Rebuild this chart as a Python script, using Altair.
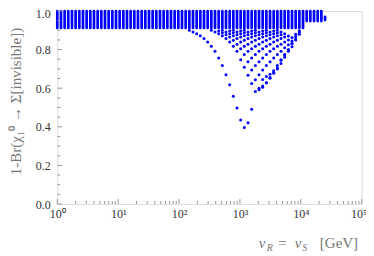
import altair as alt
import pandas as pd

# scan grid of v_R = v_S (GeV)
X_COLS = [1.0, 1.149, 1.320, 1.516, 1.742, 2.001, 2.299, 2.641, 3.034, 3.485,
          4.004, 4.600, 5.284, 6.070, 6.973, 8.011, 9.203, 10.57, 12.15, 13.95,
          16.03, 18.41, 21.15, 24.30, 27.91, 32.06, 36.83, 42.31, 48.61, 55.84,
          64.15, 73.69, 84.66, 97.26, 111.7, 128.4, 147.5, 169.4, 194.6, 223.6,
          256.8, 295.1, 339.0, 389.4, 447.3, 513.9, 590.4, 678.2, 779.1, 895.0,
          1028, 1181, 1357, 1559, 1791, 2057, 2363, 2715, 3119, 3583,
          4116, 4728, 5432, 6240, 7169, 8235, 9460, 10870, 12490, 14340,
          16480, 18930, 21740, 24980]
# dense band of points in each column (lowest / highest value)
BAND_LO = [0.912] * 68 + [0.948] * 5 + [0.953]
BAND_HI = [1.0] * 73 + [0.97]

# points that drop out of the band: (first column index, values)
CURVES = {
    "A": (36, [0.900, 0.891, 0.882, 0.872, 0.857, 0.839, 0.817, 0.791, 0.756, 0.717,
               0.670, 0.618, 0.558, 0.497, 0.435, 0.397, 0.421, 0.491]),
    "B": (42, [0.900, 0.891, 0.882, 0.872, 0.857, 0.839, 0.817, 0.791, 0.748, 0.708,
               0.667, 0.625, 0.583, 0.600, 0.645]),
    "C": (44, [0.896, 0.887, 0.877, 0.865, 0.848, 0.828, 0.804, 0.774, 0.737, 0.694,
               0.644, 0.592, 0.612, 0.660]),
    "D": (45, [0.900, 0.891, 0.882, 0.872, 0.857, 0.839, 0.817, 0.791, 0.756, 0.717,
               0.670, 0.605, 0.628, 0.672]),
    "E": (47, [0.896, 0.887, 0.877, 0.865, 0.848, 0.828, 0.804, 0.774, 0.737, 0.694,
               0.628, 0.652, 0.690]),
    "F": (48, [0.900, 0.891, 0.882, 0.872, 0.857, 0.839, 0.817, 0.791, 0.756, 0.717,
               0.655, 0.678, 0.705]),
    "G": (50, [0.896, 0.887, 0.877, 0.865, 0.848, 0.828, 0.804, 0.774, 0.737, 0.682,
               0.700, 0.745]),
    "H": (51, [0.900, 0.891, 0.882, 0.872, 0.857, 0.839, 0.817, 0.791, 0.756, 0.718,
               0.728, 0.775]),
    "I": (53, [0.896, 0.887, 0.877, 0.865, 0.848, 0.828, 0.804, 0.774, 0.748, 0.760,
               0.800]),
    "J": (54, [0.900, 0.891, 0.882, 0.872, 0.857, 0.839, 0.817, 0.791, 0.772, 0.792,
               0.830]),
    "K": (56, [0.896, 0.887, 0.877, 0.865, 0.848, 0.828, 0.810, 0.795, 0.815, 0.850]),
    "L": (57, [0.900, 0.891, 0.882, 0.872, 0.857, 0.839, 0.825, 0.832, 0.855, 0.880]),
    "M": (59, [0.896, 0.887, 0.877, 0.865, 0.850, 0.845, 0.868, 0.890]),
    "N": (60, [0.900, 0.891, 0.882, 0.870, 0.863, 0.880, 0.898]),
}

X_MAJOR = [1, 10, 100, 1000, 10000, 100000]
X_MINOR = [m * 10 ** k for k in range(5) for m in range(2, 10)]
Y_MAJOR = [0.0, 0.2, 0.4, 0.6, 0.8, 1.0]
Y_MINOR = [0.05, 0.1, 0.15, 0.25, 0.3, 0.35, 0.45, 0.5, 0.55, 0.65, 0.7, 0.75,
           0.85, 0.9, 0.95]

BLUE = "#0000ff"
FRAME = "#999999"
W, H = 304.4, 193

band_df = pd.DataFrame({"x": X_COLS, "lo": BAND_LO, "hi": BAND_HI})
rows = []
for name, (start, vals) in CURVES.items():
    for k, v in enumerate(vals):
        rows.append({"x": X_COLS[start + k], "y": v, "curve": name})
pts_df = pd.DataFrame(rows)

xscale = alt.Scale(type="log", domain=[1, 100000], nice=False)
yscale = alt.Scale(domain=[0, 1], nice=False, zero=False)

X_AXIS = alt.Axis(values=X_MAJOR, ticks=False, domain=False, grid=False,
                  labelExpr="'10' + ['\u2070','\u00b9','\u00b2','\u00b3','\u2074','\u2075'][round(log(datum.value)/LN10)]",
                  labelFont="Liberation Serif", labelFontSize=12, labelColor="#333",
                  labelPadding=4, labelFlush=False,
                  labelOffset={"condition": {"test": "datum.value >= 99999", "value": -3},
                               "value": 0},
                  title=None)
Y_AXIS = alt.Axis(values=Y_MAJOR, format=".1f", ticks=False, domain=False, grid=False,
                  labelFont="Liberation Serif", labelFontSize=12, labelColor="#333",
                  labelPadding=7,
                  labelOffset={"condition": {"test": "datum.value >= 0.99", "value": 2.5},
                               "value": 0},
                  title="1-Br(\u03c7\u2081\u2070 \u2192 \u03a3[invisible])",
                  titleFont="Liberation Serif", titleFontSize=15,
                  titleFontWeight="normal", titleColor="#777",
                  titleX=-42, titleY=90, titleAngle=270,
                  titleAlign="center", titleBaseline="middle")

band = alt.Chart(band_df).mark_rule(color=BLUE, strokeWidth=2.7, strokeCap="round").encode(
    x=alt.X("x:Q", scale=xscale, axis=X_AXIS),
    y=alt.Y("lo:Q", scale=yscale, axis=Y_AXIS),
    y2="hi:Q",
)

points = alt.Chart(pts_df).mark_circle(color=BLUE, size=9, opacity=1).encode(
    x=alt.X("x:Q", scale=xscale, axis=X_AXIS),
    y=alt.Y("y:Q", scale=yscale, axis=Y_AXIS),
)

xmaj = alt.Chart(pd.DataFrame({"t": X_MAJOR})).mark_rule(color=FRAME, strokeWidth=1).encode(
    x=alt.X("t:Q", scale=xscale, axis=X_AXIS), y=alt.value(H), y2=alt.value(H - 5))
xmin = alt.Chart(pd.DataFrame({"t": X_MINOR})).mark_rule(color=FRAME, strokeWidth=1).encode(
    x=alt.X("t:Q", scale=xscale, axis=X_AXIS), y=alt.value(H), y2=alt.value(H - 3))
ymaj = alt.Chart(pd.DataFrame({"t": Y_MAJOR})).mark_rule(color=FRAME, strokeWidth=1).encode(
    y=alt.Y("t:Q", scale=yscale, axis=Y_AXIS), x=alt.value(0), x2=alt.value(5))
ymin = alt.Chart(pd.DataFrame({"t": Y_MINOR})).mark_rule(color=FRAME, strokeWidth=1).encode(
    y=alt.Y("t:Q", scale=yscale, axis=Y_AXIS), x=alt.value(0), x2=alt.value(3))

# x-axis title pieces: v_R = v_S [GeV]
TITLE_PARTS = [
    ("v", 201.5, 237, 15, "italic"),
    ("R", 209.5, 240, 10, "italic"),
    ("=", 221, 237, 15, "normal"),
    ("v", 237.5, 237, 15, "italic"),
    ("S", 245, 240, 10, "italic"),
    ("[GeV]", 262.5, 237, 15, "normal"),
]
title_layers = []
for txt, tx, ty, fs, st in TITLE_PARTS:
    title_layers.append(
        alt.Chart(pd.DataFrame({"t": [txt]})).mark_text(
            font="Liberation Serif", fontSize=fs, fontStyle=st, color="#777",
            align="left", baseline="alphabetic").encode(
            text="t:N", x=alt.value(tx), y=alt.value(ty)))

chart = alt.layer(band, points, xmaj, xmin, ymaj, ymin, *title_layers).properties(
    width=W, height=H, autosize="none",
    padding={"left": 49.3, "top": 3, "right": 4.3, "bottom": 50},
).configure_view(stroke=FRAME, strokeWidth=1).configure(background="white")

chart.save("out.html", embed_options={"renderer": "svg", "actions": False})
